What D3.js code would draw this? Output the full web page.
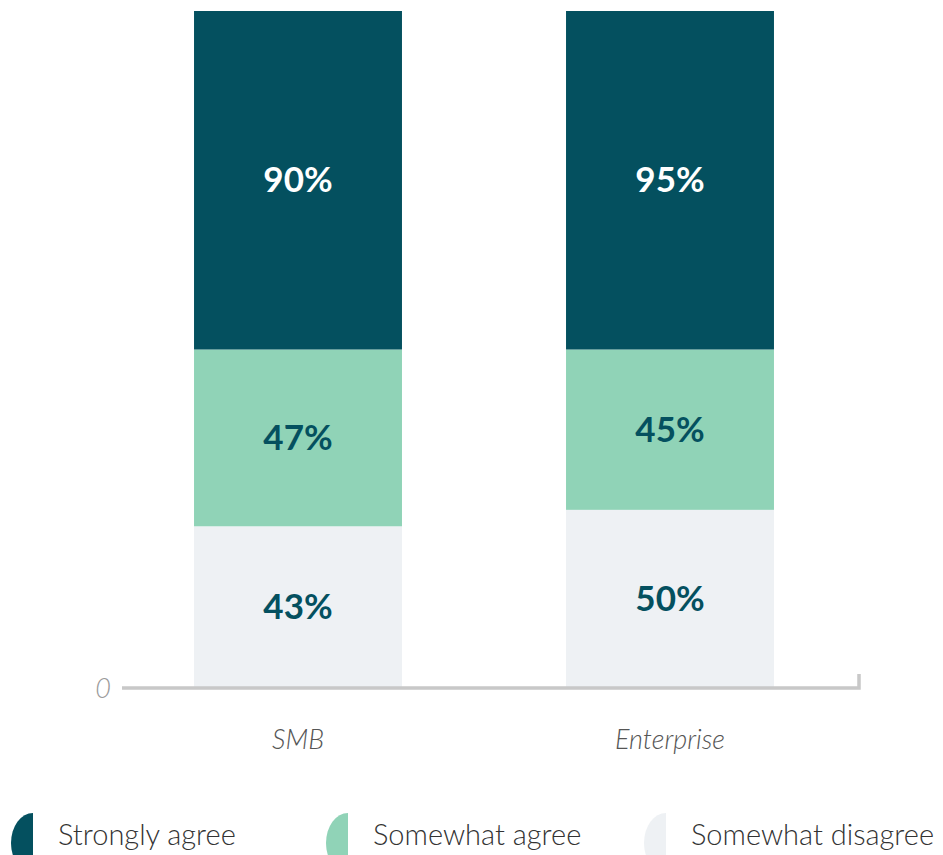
<!DOCTYPE html>
<html>
<head>
<meta charset="UTF-8">
<style>
  body { margin: 0; background: #fff; }
  svg { display: block; }
  text { font-family: "Source Sans Pro", Lato, "Open Sans", sans-serif; }
</style>
</head>
<body>
<div id="chart"></div>
<script src="https://d3js.org/d3.v7.min.js"></script>
<script>
// data
const categories = ["SMB", "Enterprise"];
const seriesKeys = ["Somewhat disagree", "Somewhat agree", "Strongly agree"];
const disagree = [43, 50];
const somewhatAgree = [47, 45];
const stronglyAgree = [90, 95];
const legendOrder = ["Strongly agree", "Somewhat agree", "Somewhat disagree"];
const yTicks = [0];

const colors = {
    "Strongly agree": "#04505f",
    "Somewhat agree": "#90d3b7",
    "Somewhat disagree": "#eef1f4"
};
const labelColors = {
    "Strongly agree": "#ffffff",
    "Somewhat agree": "#04505f",
    "Somewhat disagree": "#04505f"
};

const W = 943, H = 855;
const svg = d3.select("#chart").append("svg")
    .attr("width", W).attr("height", H);

const rows = categories.map((c, i) => ({
    cat: c,
    "Somewhat disagree": disagree[i],
    "Somewhat agree": somewhatAgree[i],
    "Strongly agree": stronglyAgree[i]
}));

// each bar fills the full height (100% stack)
const stacked = d3.stack().keys(seriesKeys).offset(d3.stackOffsetExpand)(rows);

const x = d3.scaleBand().domain(categories).range([112, 856]).paddingInner(0.441).paddingOuter(0.2205);
const y = d3.scaleLinear().domain([0, 1]).range([688, 11]);

const groups = svg.append("g").selectAll("g")
    .data(stacked).enter().append("g")
    .attr("fill", d => colors[d.key]);

groups.selectAll("rect")
    .data(d => d.map(p => Object.assign(p, { key: d.key })))
    .enter().append("rect")
    .attr("x", d => x(d.data.cat))
    .attr("y", d => y(d[1]))
    .attr("width", x.bandwidth())
    .attr("height", d => y(d[0]) - y(d[1]));

groups.selectAll("text")
    .data(d => d)
    .enter().append("text")
    .attr("x", d => x(d.data.cat) + x.bandwidth() / 2)
    .attr("y", d => (y(d[0]) + y(d[1])) / 2)
    .attr("dy", "0.34em")
    .attr("text-anchor", "middle")
    .attr("font-size", 35)
    .attr("font-weight", 700)
    .attr("fill", d => labelColors[d.key])
    .text(d => d.data[d.key] + "%");

// baseline axis with a small end tick
const axis = svg.append("g");
axis.append("path")
    .attr("d", "M122," + y(0) + "H859V" + (y(0) - 14))
    .attr("fill", "none")
    .attr("stroke", "#c8c8c8")
    .attr("stroke-width", 3.5);

axis.selectAll("text.ytick")
    .data(yTicks).enter().append("text")
    .attr("class", "ytick")
    .attr("x", 103)
    .attr("y", d => y(d))
    .attr("dy", "0.36em")
    .attr("text-anchor", "middle")
    .attr("font-size", 27)
    .attr("font-style", "italic")
    .attr("font-weight", 300)
    .attr("fill", "#9a9a9a")
    .text(d => d);

axis.selectAll("text.xlab")
    .data(categories).enter().append("text")
    .attr("class", "xlab")
    .attr("x", d => x(d) + x.bandwidth() / 2)
    .attr("y", 749)
    .attr("text-anchor", "middle")
    .attr("font-size", 27)
    .attr("font-style", "italic")
    .attr("font-weight", 300)
    .attr("fill", "#555")
    .text(d => d);

// legend
const legendX = [33, 348, 666];
const legend = svg.append("g").selectAll("g")
    .data(legendOrder).enter().append("g")
    .attr("transform", (d, i) => "translate(" + legendX[i] + ",843)");

legend.append("path")
    .attr("d", "M0,-30A22,30 0 0,0 0,30Z")
    .attr("fill", d => colors[d]);

legend.append("text")
    .attr("x", 25)
    .attr("y", 2)
    .attr("font-size", 29)
    .attr("font-weight", 300)
    .attr("fill", "#333")
    .text(d => d);
</script>
</body>
</html>
